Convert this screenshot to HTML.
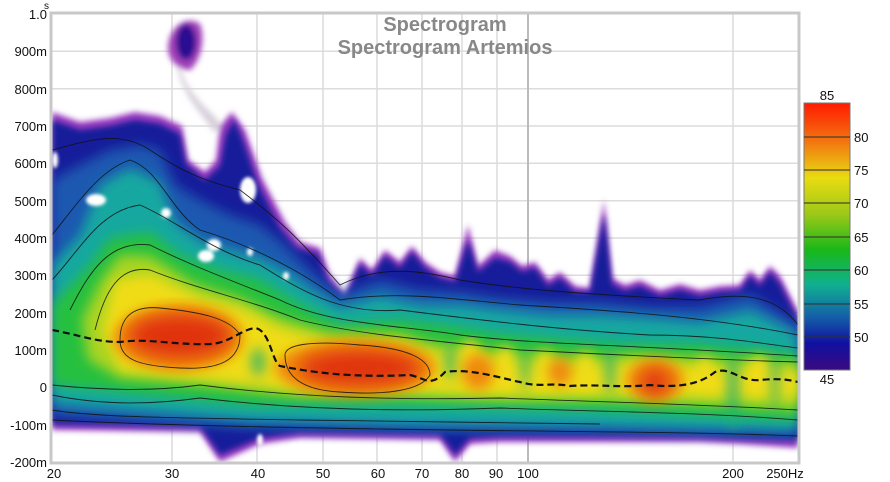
<!DOCTYPE html>
<html><head><meta charset="utf-8"><style>
html,body{margin:0;padding:0;background:#fff;}
svg{display:block;font-family:"Liberation Sans",sans-serif;}
</style></head><body>
<svg width="890" height="482" viewBox="0 0 890 482" xmlns="http://www.w3.org/2000/svg">
<defs>
<clipPath id="pc"><rect x="52" y="14" width="746" height="448"/></clipPath>
<filter id="b1" x="-10%" y="-10%" width="120%" height="120%"><feGaussianBlur stdDeviation="3"/></filter>
<filter id="b0" x="-30%" y="-30%" width="160%" height="160%"><feGaussianBlur stdDeviation="1.5"/></filter>
<filter id="b2" x="-10%" y="-10%" width="120%" height="120%"><feGaussianBlur stdDeviation="6"/></filter>
<filter id="b3" x="-20%" y="-20%" width="140%" height="140%"><feGaussianBlur stdDeviation="9"/></filter>
<linearGradient id="cb" x1="0" y1="0" x2="0" y2="1">
<stop offset="0" stop-color="#ff1a00"/><stop offset="0.15" stop-color="#f27a10"/>
<stop offset="0.28" stop-color="#e8dc10"/><stop offset="0.42" stop-color="#9ac818"/>
<stop offset="0.55" stop-color="#18b818"/><stop offset="0.68" stop-color="#10b090"/>
<stop offset="0.8" stop-color="#1460a8"/><stop offset="0.9" stop-color="#1010a0"/>
<stop offset="1" stop-color="#3a0a80"/></linearGradient>
</defs>
<rect x="0" y="0" width="890" height="482" fill="#fff"/>
<g stroke="#dcdcdc" stroke-width="1.5">
<line x1="52" y1="51.3" x2="798" y2="51.3"/><line x1="52" y1="88.7" x2="798" y2="88.7"/>
<line x1="52" y1="126" x2="798" y2="126"/><line x1="52" y1="163.3" x2="798" y2="163.3"/>
<line x1="52" y1="200.7" x2="798" y2="200.7"/><line x1="52" y1="238" x2="798" y2="238"/>
<line x1="52" y1="275.3" x2="798" y2="275.3"/><line x1="52" y1="312.7" x2="798" y2="312.7"/>
<line x1="52" y1="350" x2="798" y2="350"/><line x1="52" y1="387.3" x2="798" y2="387.3"/>
<line x1="52" y1="424.7" x2="798" y2="424.7"/>
<line x1="172" y1="14" x2="172" y2="462"/><line x1="257" y1="14" x2="257" y2="462"/>
<line x1="323" y1="14" x2="323" y2="462"/><line x1="377" y1="14" x2="377" y2="462"/>
<line x1="422" y1="14" x2="422" y2="462"/><line x1="462" y1="14" x2="462" y2="462"/>
<line x1="497" y1="14" x2="497" y2="462"/><line x1="733" y1="14" x2="733" y2="462"/>
</g>
<line x1="528" y1="14" x2="528" y2="462" stroke="#bbb" stroke-width="2"/>
<g clip-path="url(#pc)">
<g filter="url(#b1)">
<path fill="#d8d0dc" d="M178,60 C182,80 192,92 202,104 C212,114 218,118 222,128 L214,132 C204,118 192,104 186,92 C180,80 176,70 178,60 Z"/>
<path fill="#9a3ac0" d="M52,112 L80,122 110,118 135,112 160,116 182,126 188,160 205,172 216,160 220,126 232,112 245,130 262,178 285,222 300,242 320,248 330,275 345,295 360,258 372,270 385,250 400,262 412,246 425,262 440,272 455,276 468,225 478,266 495,250 510,256 522,266 535,262 548,280 560,272 575,286 590,288 604,200 612,278 625,285 640,280 660,290 680,284 700,290 720,286 740,285 750,270 760,280 770,266 780,276 798,312 L798,448 740,444 700,442 600,442 500,442 470,444 455,462 440,440 300,438 260,444 220,462 200,432 52,430 Z"/>
<path fill="#a040b8" d="M168,48 C168,28 186,14 200,24 C206,40 200,62 190,70 C178,70 168,60 168,48 Z"/>
<ellipse cx="186" cy="42" rx="10" ry="18" fill="#2a1090"/>
</g>
<g filter="url(#b1)">
<path fill="#181c9a" d="M52,120 L80,130 110,126 135,120 160,124 180,134 186,164 205,180 220,166 226,134 234,120 242,138 258,184 280,228 296,248 318,254 328,282 345,300 360,264 372,276 385,256 400,268 412,252 425,268 440,278 455,282 468,240 478,272 495,258 510,262 522,272 535,268 548,286 560,278 575,292 590,292 604,214 612,284 625,291 640,286 660,296 680,290 700,296 720,292 740,291 750,276 760,286 770,272 780,284 798,320 L798,440 740,438 700,436 600,436 500,436 470,438 455,455 440,434 300,432 260,438 220,455 200,426 52,424 Z"/>
</g>
<path filter="url(#b2)" fill="#1c58b0" d="M52,180 L80,165 110,150 140,145 160,150 175,185 200,200 230,215 260,225 285,245 310,270 340,295 380,280 420,290 460,292 500,298 550,302 600,302 650,307 700,307 750,294 798,324 L798,436 600,432 400,430 250,428 150,422 52,416 Z"/>
<path filter="url(#b2)" fill="#12a8a0" d="M52,265 L80,235 100,185 130,168 160,182 175,222 200,240 230,250 260,258 290,274 310,289 340,307 380,296 420,305 460,305 500,310 550,315 600,315 650,318 700,322 750,310 798,334 L798,430 600,426 400,424 250,420 150,412 52,404 Z"/>
<path filter="url(#b2)" fill="#26c040" d="M52,305 L90,265 110,238 150,232 180,255 220,270 260,280 300,304 340,324 400,320 450,326 500,334 560,339 620,344 700,344 798,354 L798,420 600,410 400,405 250,405 150,395 52,385 Z"/>
<path filter="url(#b2)" fill="#a8d420" d="M82,320 L100,282 120,255 150,256 195,284 240,298 280,318 330,332 400,333 430,343 470,348 520,354 580,357 640,354 700,358 760,360 798,362 L798,410 700,404 600,400 500,400 400,396 300,396 200,385 120,378 88,360 Z"/>
<path filter="url(#b2)" fill="#f0dc18" d="M102,330 L115,280 150,274 200,298 240,308 280,328 330,342 400,342 430,352 480,358 520,366 580,368 640,362 700,368 760,370 798,370 L798,398 700,396 600,394 500,394 400,390 300,390 200,378 120,370 Z"/>
<g filter="url(#b2)" fill="#f0dc18">
<ellipse cx="470" cy="362" rx="12" ry="22"/><ellipse cx="505" cy="366" rx="10" ry="20"/>
<ellipse cx="545" cy="368" rx="10" ry="18"/><ellipse cx="585" cy="370" rx="10" ry="18"/>
<ellipse cx="705" cy="372" rx="8" ry="16"/><ellipse cx="760" cy="374" rx="12" ry="18"/>
</g>
<g filter="url(#b2)" fill="#f08a10">
<ellipse cx="178" cy="338" rx="64" ry="32"/><ellipse cx="355" cy="368" rx="80" ry="27"/>
<ellipse cx="655" cy="380" rx="28" ry="20"/><ellipse cx="478" cy="372" rx="16" ry="18"/>
<ellipse cx="560" cy="372" rx="12" ry="14"/>
</g>
<g filter="url(#b3)" fill="#e03210">
<ellipse cx="180" cy="336" rx="52" ry="22"/><ellipse cx="360" cy="368" rx="62" ry="18"/>
<ellipse cx="655" cy="382" rx="15" ry="14"/>
</g>
<g filter="url(#b2)" fill="#20b070" opacity="0.8">
<ellipse cx="258" cy="362" rx="7" ry="14"/><ellipse cx="733" cy="390" rx="6" ry="40"/>
<ellipse cx="610" cy="370" rx="5" ry="25"/><ellipse cx="775" cy="380" rx="4" ry="30"/>
<ellipse cx="525" cy="370" rx="4" ry="20"/><ellipse cx="450" cy="362" rx="5" ry="18"/>
</g>
<g fill="#fff" filter="url(#b0)">
<ellipse cx="96" cy="200" rx="10" ry="6"/><ellipse cx="166" cy="213" rx="5" ry="5"/>
<ellipse cx="206" cy="256" rx="8" ry="6"/><ellipse cx="214" cy="245" rx="7" ry="6"/>
<ellipse cx="248" cy="190" rx="8" ry="13"/><ellipse cx="250" cy="252" rx="3" ry="4"/>
<ellipse cx="286" cy="276" rx="3" ry="4"/><ellipse cx="55" cy="160" rx="3" ry="8"/>
<ellipse cx="260" cy="440" rx="3" ry="6"/><ellipse cx="294" cy="452" rx="6" ry="8"/>
</g>
<g fill="none" stroke="#111" stroke-width="0.9" opacity="0.85">
<path d="M52,150 C90,140 120,130 150,150 C180,170 200,180 240,190 C280,220 300,240 340,285 C380,265 420,270 460,280 C520,290 600,295 700,300 C750,290 780,300 798,325"/>
<path d="M52,235 C80,200 100,170 130,160 C160,170 170,210 200,230 C250,245 300,270 340,300 C400,290 460,300 520,305 C600,310 700,315 798,335"/>
<path d="M52,280 C80,250 100,210 140,205 C175,220 210,250 260,265 C300,290 340,315 400,310 C480,320 560,330 650,335 C720,335 770,345 798,348"/>
<path d="M70,310 C90,270 110,240 150,245 C190,265 230,280 280,300 C330,325 400,325 460,335 C540,345 640,345 798,356"/>
<path d="M95,330 C105,290 120,265 150,270 C200,290 250,300 300,320 C360,335 430,340 520,350 C620,355 720,360 798,362"/>
<path d="M120,340 C120,320 130,305 160,308 C200,312 230,318 240,335 C240,360 220,370 180,368 C140,366 120,360 120,340 Z"/>
<path d="M285,355 C285,345 310,340 360,345 C410,348 430,360 430,375 C420,392 380,395 340,392 C300,390 285,375 285,355 Z"/>
<path d="M52,395 C100,405 150,405 200,398 C300,410 400,412 500,408 C600,412 700,412 798,420"/>
<path d="M52,410 C100,418 200,418 300,420 C400,422 500,422 600,424 C700,426 798,430"/>
<path d="M52,420 C150,425 300,428 450,430 C600,432 700,432 798,436"/>
<path d="M52,385 C100,390 150,392 200,385 C300,398 400,400 500,398 C600,402 700,404 798,410"/>
</g>
<path fill="none" stroke="#111" stroke-width="2.2" stroke-dasharray="7,4" d="M52,330 C80,335 95,342 120,342 C150,338 170,345 210,344 C230,343 240,330 255,328 C270,330 272,362 280,366 C310,372 350,378 410,375 C425,378 430,388 445,372 C470,368 500,378 520,382 C540,388 550,382 570,386 C600,384 620,388 650,385 C680,388 700,384 715,372 C730,366 740,382 760,380 C780,378 790,380 798,382"/>
</g>
<rect x="51" y="13" width="748" height="450" fill="none" stroke="#c8c8c8" stroke-width="3"/>
<text x="445" y="31" text-anchor="middle" font-size="20" font-weight="bold" fill="#888">Spectrogram</text>
<text x="445" y="54" text-anchor="middle" font-size="20" font-weight="bold" fill="#888">Spectrogram Artemios</text>
<g font-size="13" fill="#111" text-anchor="end">
<text x="47" y="19">1.0</text><text x="47" y="56">900m</text><text x="47" y="94">800m</text>
<text x="47" y="131">700m</text><text x="47" y="168">600m</text><text x="47" y="206">500m</text>
<text x="47" y="243">400m</text><text x="47" y="280">300m</text><text x="47" y="318">200m</text>
<text x="47" y="355">100m</text><text x="47" y="392">0</text><text x="47" y="430">-100m</text>
<text x="47" y="467">-200m</text>
</g>
<text x="44" y="9" font-size="10" fill="#111">s</text>
<g font-size="13" fill="#111" text-anchor="middle">
<text x="54" y="478">20</text><text x="172" y="478">30</text><text x="258" y="478">40</text>
<text x="323" y="478">50</text><text x="378" y="478">60</text><text x="422" y="478">70</text>
<text x="462" y="478">80</text><text x="496" y="478">90</text><text x="528" y="478">100</text>
<text x="733" y="478">200</text><text x="785" y="478">250Hz</text>
</g>
<rect x="804" y="103" width="46" height="267" fill="url(#cb)" stroke="#777" stroke-width="1"/>
<g stroke="#333" stroke-width="1.5" opacity="0.7">
<line x1="804" y1="137" x2="850" y2="137"/><line x1="804" y1="170" x2="850" y2="170"/>
<line x1="804" y1="203" x2="850" y2="203"/><line x1="804" y1="237" x2="850" y2="237"/>
<line x1="804" y1="270" x2="850" y2="270"/><line x1="804" y1="304" x2="850" y2="304"/>
<line x1="804" y1="337" x2="850" y2="337"/>
</g>
<g font-size="13" fill="#111">
<text x="827" y="100" text-anchor="middle">85</text><text x="827" y="384" text-anchor="middle">45</text>
<text x="854" y="142">80</text><text x="854" y="175">75</text><text x="854" y="208">70</text>
<text x="854" y="242">65</text><text x="854" y="275">60</text><text x="854" y="309">55</text>
<text x="854" y="342">50</text>
</g>
</svg>
</body></html>
